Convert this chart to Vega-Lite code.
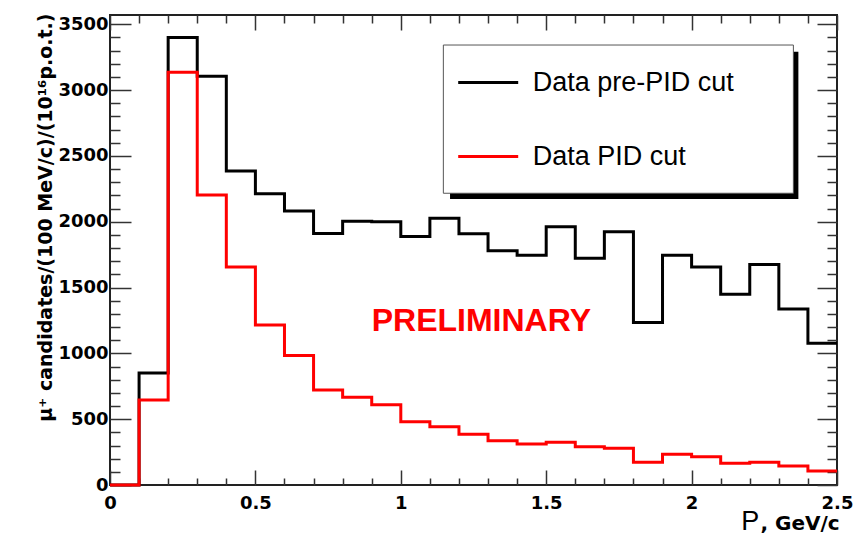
{
  "$schema": "https://vega.github.io/schema/vega-lite/v6.json",
  "width": 727,
  "height": 470,
  "autosize": {"type": "none"},
  "padding": {"left": 110, "top": 15, "right": 27, "bottom": 51},
  "background": "white",
  "config": {
    "view": {"stroke": "#222", "strokeWidth": 2},
    "axis": {"grid": false, "domain": false, "labelFont": "DejaVu Sans", "labelFontWeight": "bold", "labelFontSize": 18, "labelColor": "#000", "tickColor": "#333", "tickWidth": 1.5, "labelFlush": false, "labelOverlap": false}
  },
  "datasets": {
    "hist": [
      {"p": 0.0, "n": 0, "s": "Data pre-PID cut"},
      {"p": 0.1, "n": 850, "s": "Data pre-PID cut"},
      {"p": 0.2, "n": 3400, "s": "Data pre-PID cut"},
      {"p": 0.3, "n": 3105, "s": "Data pre-PID cut"},
      {"p": 0.4, "n": 2386, "s": "Data pre-PID cut"},
      {"p": 0.5, "n": 2212, "s": "Data pre-PID cut"},
      {"p": 0.6, "n": 2082, "s": "Data pre-PID cut"},
      {"p": 0.7, "n": 1911, "s": "Data pre-PID cut"},
      {"p": 0.8, "n": 2004, "s": "Data pre-PID cut"},
      {"p": 0.9, "n": 2000, "s": "Data pre-PID cut"},
      {"p": 1.0, "n": 1887, "s": "Data pre-PID cut"},
      {"p": 1.1, "n": 2026, "s": "Data pre-PID cut"},
      {"p": 1.2, "n": 1908, "s": "Data pre-PID cut"},
      {"p": 1.3, "n": 1779, "s": "Data pre-PID cut"},
      {"p": 1.4, "n": 1746, "s": "Data pre-PID cut"},
      {"p": 1.5, "n": 1961, "s": "Data pre-PID cut"},
      {"p": 1.6, "n": 1722, "s": "Data pre-PID cut"},
      {"p": 1.7, "n": 1923, "s": "Data pre-PID cut"},
      {"p": 1.8, "n": 1235, "s": "Data pre-PID cut"},
      {"p": 1.9, "n": 1746, "s": "Data pre-PID cut"},
      {"p": 2.0, "n": 1655, "s": "Data pre-PID cut"},
      {"p": 2.1, "n": 1448, "s": "Data pre-PID cut"},
      {"p": 2.2, "n": 1674, "s": "Data pre-PID cut"},
      {"p": 2.3, "n": 1336, "s": "Data pre-PID cut"},
      {"p": 2.4, "n": 1076, "s": "Data pre-PID cut"},
      {"p": 2.5, "n": 1076, "s": "Data pre-PID cut"},
      {"p": 0.0, "n": 0, "s": "Data PID cut"},
      {"p": 0.1, "n": 645, "s": "Data PID cut"},
      {"p": 0.2, "n": 3136, "s": "Data PID cut"},
      {"p": 0.3, "n": 2202, "s": "Data PID cut"},
      {"p": 0.4, "n": 1656, "s": "Data PID cut"},
      {"p": 0.5, "n": 1215, "s": "Data PID cut"},
      {"p": 0.6, "n": 983, "s": "Data PID cut"},
      {"p": 0.7, "n": 722, "s": "Data PID cut"},
      {"p": 0.8, "n": 666, "s": "Data PID cut"},
      {"p": 0.9, "n": 610, "s": "Data PID cut"},
      {"p": 1.0, "n": 481, "s": "Data PID cut"},
      {"p": 1.1, "n": 443, "s": "Data PID cut"},
      {"p": 1.2, "n": 385, "s": "Data PID cut"},
      {"p": 1.3, "n": 336, "s": "Data PID cut"},
      {"p": 1.4, "n": 311, "s": "Data PID cut"},
      {"p": 1.5, "n": 324, "s": "Data PID cut"},
      {"p": 1.6, "n": 291, "s": "Data PID cut"},
      {"p": 1.7, "n": 279, "s": "Data PID cut"},
      {"p": 1.8, "n": 172, "s": "Data PID cut"},
      {"p": 1.9, "n": 233, "s": "Data PID cut"},
      {"p": 2.0, "n": 215, "s": "Data PID cut"},
      {"p": 2.1, "n": 165, "s": "Data PID cut"},
      {"p": 2.2, "n": 172, "s": "Data PID cut"},
      {"p": 2.3, "n": 144, "s": "Data PID cut"},
      {"p": 2.4, "n": 106, "s": "Data PID cut"},
      {"p": 2.5, "n": 106, "s": "Data PID cut"}
    ]
  },
  "layer": [
    {
      "data": {"values": [{}]},
      "mark": {"type": "rect", "fill": "#000000"},
      "encoding": {
        "x": {"datum": 1.1693, "type": "quantitative", "scale": {"domain": [0, 2.5], "nice": false, "zero": false},
          "axis": {"orient": "top", "values": [0, 0.5, 1, 1.5, 2, 2.5], "tickSize": -15, "labels": false, "title": null}},
        "x2": {"datum": 2.3672},
        "y": {"datum": 3291, "type": "quantitative", "scale": {"domain": [0, 3570], "nice": false, "zero": false},
          "axis": {"orient": "right", "values": [0, 500, 1000, 1500, 2000, 2500, 3000, 3500], "tickSize": -20, "labels": false, "title": null}},
        "y2": {"datum": 2172}
      }
    },
    {
      "data": {"values": [{}]},
      "mark": {"type": "rect", "fill": "#ffffff", "stroke": "#555555", "strokeWidth": 1},
      "encoding": {
        "x": {"datum": 1.1463, "type": "quantitative",
          "axis": {"orient": "top", "values": [0.1, 0.2, 0.3, 0.4, 0.6, 0.7, 0.8, 0.9, 1.1, 1.2, 1.3, 1.4, 1.6, 1.7, 1.8, 1.9, 2.1, 2.2, 2.3, 2.4], "tickSize": -8, "labels": false, "title": null}},
        "x2": {"datum": 2.35},
        "y": {"datum": 3342, "type": "quantitative",
          "axis": {"orient": "right", "values": [100, 200, 300, 400, 600, 700, 800, 900, 1100, 1200, 1300, 1400, 1600, 1700, 1800, 1900, 2100, 2200, 2300, 2400, 2600, 2700, 2800, 2900, 3100, 3200, 3300, 3400], "tickSize": -10, "labels": false, "title": null}},
        "y2": {"datum": 2216}
      }
    },
    {
      "data": {"name": "hist"},
      "mark": {"type": "line", "interpolate": "step-after", "strokeWidth": 3},
      "encoding": {
        "x": {"field": "p", "type": "quantitative",
          "axis": {"orient": "bottom", "values": [0, 0.5, 1, 1.5, 2, 2.5], "tickSize": -15, "labelPadding": 24, "format": "~g",
            "title": "P", "titleFont": "Liberation Sans", "titleFontSize": 27, "titleFontWeight": "normal", "titleColor": "#000",
            "titleX": 630.7, "titleY": 44.5, "titleAlign": "left", "titleBaseline": "alphabetic"}},
        "y": {"field": "n", "type": "quantitative",
          "axis": {"orient": "left", "values": [0, 500, 1000, 1500, 2000, 2500, 3000, 3500], "tickSize": -21, "labelPadding": 23, "format": "d", "labelBaseline": "middle",
            "title": "μ⁺ candidates/(100 MeV/c)/(10¹⁶p.o.t.)", "titleFont": "DejaVu Sans", "titleFontSize": 19, "titleFontWeight": "bold", "titleColor": "#000",
            "titleAngle": 270, "titleX": -59, "titleY": -2, "titleAlign": "right", "titleBaseline": "alphabetic"}},
        "color": {"field": "s", "type": "nominal",
          "scale": {"domain": ["Data pre-PID cut", "Data PID cut"], "range": ["#000000", "#ff0000"]},
          "legend": {"orient": "none", "legendX": 346.7, "legendY": 36, "title": null, "symbolType": "stroke", "symbolSize": 3600, "symbolStrokeWidth": 3,
            "labelFont": "Liberation Sans", "labelFontSize": 27, "labelColor": "#000", "labelOffset": 13, "rowPadding": 29, "padding": 0, "labelLimit": 400}}
      }
    },
    {
      "data": {"values": [{}]},
      "mark": {"type": "text", "text": "PRELIMINARY", "font": "Liberation Sans", "fontWeight": "bold", "fontSize": 32, "color": "#ff0000", "align": "center", "baseline": "alphabetic"},
      "encoding": {
        "x": {"datum": 1.277, "type": "quantitative",
          "axis": {"orient": "bottom", "values": [0.1, 0.2, 0.3, 0.4, 0.6, 0.7, 0.8, 0.9, 1.1, 1.2, 1.3, 1.4, 1.6, 1.7, 1.8, 1.9, 2.1, 2.2, 2.3, 2.4], "tickSize": -7, "labels": false,
            "title": ", GeV/c", "titleFont": "DejaVu Sans", "titleFontSize": 20, "titleFontWeight": "bold", "titleColor": "#000",
            "titleX": 650, "titleY": 44.5, "titleAlign": "left", "titleBaseline": "alphabetic"}},
        "y": {"datum": 1170, "type": "quantitative",
          "axis": {"orient": "left", "values": [100, 200, 300, 400, 600, 700, 800, 900, 1100, 1200, 1300, 1400, 1600, 1700, 1800, 1900, 2100, 2200, 2300, 2400, 2600, 2700, 2800, 2900, 3100, 3200, 3300, 3400], "tickSize": -10, "labels": false, "title": null}}
      }
    }
  ],
  "resolve": {"axis": {"x": "independent", "y": "independent"}}
}
